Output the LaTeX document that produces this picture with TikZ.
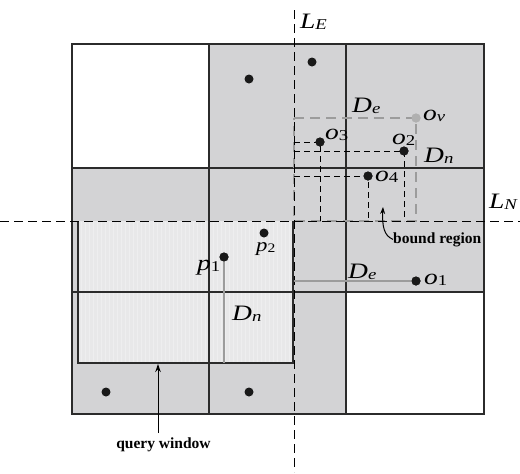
\documentclass[tikz,border=0pt]{standalone}
\usepackage{fontspec}
\usepackage{graphicx}
\setmainfont{Liberation Serif}
\usetikzlibrary{arrows.meta}
\definecolor{cellgray}{HTML}{D3D3D5}
\definecolor{wingray}{HTML}{E8E8E9}
\definecolor{gridc}{HTML}{2B2B2B}
\definecolor{boundc}{HTML}{9C9C9C}
\newcommand{\lbl}[2]{\scalebox{1.25}[1]{\textit{#1}{\fontsize{15}{15}\selectfont\raisebox{-1pt}{#2}}}}
\tikzset{
  cell/.style={fill=cellgray,draw=none},
  gridline/.style={draw=gridc,line width=1.2pt},
  axisline/.style={draw=black,line width=1pt,dash pattern=on 9pt off 5pt},
  boundline/.style={draw=boundc,line width=2pt,dash pattern=on 10pt off 6pt},
  projline/.style={draw=black,line width=0.9pt,dash pattern=on 6pt off 4pt},
  distline/.style={draw=boundc,line width=1.3pt},
  dot/.style={circle,fill=black!90,inner sep=0pt,minimum size=9pt},
  gdot/.style={circle,fill=boundc!80,inner sep=0pt,minimum size=9pt},
  lab/.style={font=\fontsize{22}{22}\selectfont,inner sep=0pt,anchor=base west},
  note/.style={font=\fontsize{15.5}{16}\selectfont\bfseries,inner sep=0pt}
}
\begin{document}
\begin{tikzpicture}[x=1pt,y=-1pt]
\useasboundingbox (0,0) rectangle (520,474);
\fill[white] (0,0) rectangle (520,474);
% cells
\fill[cell] (209,44) rectangle (346,168);
\fill[cell] (346,44) rectangle (484,168);
\fill[cell] (72,168) rectangle (209,292);
\fill[cell] (209,168) rectangle (346,292);
\fill[cell] (346,168) rectangle (484,292);
\fill[cell] (72,292) rectangle (209,414);
\fill[cell] (209,292) rectangle (346,414);
% query window
\fill[wingray] (78,221) rectangle (293,363);
\foreach \x in {81,85,...,291} \draw[white,opacity=0.3,line width=0.7pt] (\x,222) -- (\x,362);
% grid
\draw[gridline] (72,44) rectangle (484,414);
\draw[gridline] (209,44) -- (209,414);
\draw[gridline] (346,44) -- (346,414);
\draw[gridline] (72,168) -- (484,168);
\draw[gridline] (72,292) -- (484,292);
% window border
\draw[draw=gridc,line width=1.1pt] (78,221) -- (78,363) -- (293,363) -- (293,221);
% dots
\node[dot] (a1) at (312,62) {};
\node[dot] (a2) at (249,79) {};
\node[dot] (a3) at (106,392) {};
\node[dot] (a4) at (249,392) {};
\node[gdot] (ov) at (416,118) {};
\node[dot] (o3) at (320,142) {};
\node[dot] (o2) at (404,151) {};
\node[dot] (o4) at (368,176) {};
\node[dot] (o1) at (416,281) {};
\node[dot] (p1) at (224,257) {};
\node[dot] (p2) at (264,233) {};
% coordinates
\coordinate (le1) at (294,10);
\coordinate (le2) at (294,472);
\coordinate (ln1) at (0,221);
\coordinate (ln2) at (520,221);
\coordinate (bA) at (294,118);
\coordinate (bB) at (416,221);
\coordinate (bC) at (294,221);
\coordinate (h3) at (294,142);
\coordinate (h2) at (294,151);
\coordinate (h4) at (294,176);
\coordinate (v3) at (320,221);
\coordinate (v2) at (404,221);
\coordinate (v4) at (368,221);
\coordinate (d1) at (294,281);
\coordinate (dp) at (224,363);
% bound region
\draw[boundline] (bA) -- (ov.center) -- (bB) -- (bC) -- cycle;
% projections
\draw[projline] (h3) -- (o3.center) -- (v3);
\draw[projline] (h2) -- (o2.center) -- (v2);
\draw[projline] (h4) -- (o4.center) -- (v4);
% axes
\draw[axisline] (le1) -- (le2);
\draw[axisline] (ln1) -- (ln2);
% distances
\draw[distline] (d1) -- (o1.center);
\draw[distline] (p1.center) -- (dp);
% redraw dots on top
\foreach \n in {o3,o2,o4,o1,p1} \fill[black!90] (\n) circle (4.5pt);
\fill[boundc!80] (ov) circle (4.5pt);
% labels
\node[lab] (tLE) at (300,28) {\lbl{L}{\textit{E}}};
\node[lab] (tLN) at (489,208) {\lbl{L}{\textit{N}}};
\node[lab] (tDe1) at (352,112) {\lbl{D}{\textit{e}}};
\node[lab] (tov) at (423,120) {\lbl{o}{\textit{v}}};
\node[lab] (to3) at (325,139) {\lbl{o}{3}};
\node[lab] (to2) at (392,144) {\lbl{o}{2}};
\node[lab] (tDn1) at (424,162) {\lbl{D}{\textit{n}}};
\node[lab] (to4) at (375,181) {\lbl{o}{4}};
\node[lab] (tDe2) at (348,278) {\lbl{D}{\textit{e}}};
\node[lab] (to1) at (424,284) {\lbl{o}{1}};
\node[lab] (tp1) at (197,270) {\lbl{p}{1}};
\node[lab,font=\fontsize{19}{19}\selectfont] (tp2) at (256,251) {\scalebox{1.2}[1]{\textit{p}{\fontsize{13}{13}\selectfont\raisebox{-1pt}{2}}}};
\node[lab] (tDn2) at (232,320) {\lbl{D}{\textit{n}}};
% notes
\node[note,anchor=base west] (br) at (393,243) {bound region};
\coordinate (brtip) at (383,207);
\draw[line width=1pt,-{Stealth[length=7pt,width=5pt]}] (br.west) .. controls (384,236) and (382,226) .. (brtip);
\node[note,anchor=base] (qw) at (163.5,448) {query window};
\draw[line width=1pt,-{Stealth[length=8pt,width=5.5pt]}] (qw.north -| 158,0) ++(0,-4) -- (158,364);
\end{tikzpicture}
\end{document}
